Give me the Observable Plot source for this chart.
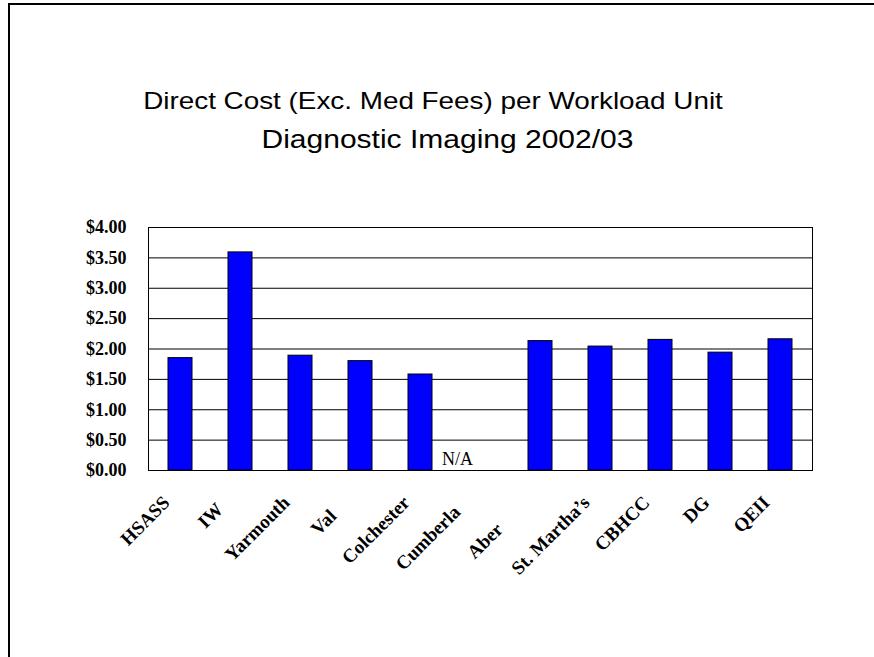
<!DOCTYPE html>
<html>
<head>
<meta charset="utf-8">
<script src="https://cdn.jsdelivr.net/npm/d3@7"></script>
<script src="https://cdn.jsdelivr.net/npm/@observablehq/plot@0.6"></script>
<style>
  html, body { margin: 0; padding: 0; background: #fff; }
  #page { position: relative; width: 874px; height: 657px; overflow: hidden; background: #fff; }
  #frame { position: absolute; left: 8px; top: 3px; width: 900px; height: 700px; border-left: 2px solid #000; border-top: 2px solid #000; box-sizing: border-box; }
  .title { position: absolute; font-family: "Liberation Sans", Arial, sans-serif; color: #000; white-space: nowrap; transform-origin: center; }
  #chart { position: absolute; left: 0; top: 200px; }
</style>
</head>
<body>
<div id="page">
  <div id="frame"></div>
  <div class="title" id="t1" style="left:0; width:866px; text-align:center; top:87px; font-size:24px; transform:scaleX(1.16);">Direct Cost (Exc. Med Fees) per Workload Unit</div>
  <div class="title" id="t2" style="left:0; width:895px; text-align:center; top:125px; font-size:25px; transform:scaleX(1.2);">Diagnostic Imaging 2002/03</div>
  <div id="chart"></div>
</div>
<script>
const sites = ["HSASS", "IW", "Yarmouth", "Val", "Colchester", "Cumberla", "Aber", "St. Martha\u2019s", "CBHCC", "DG", "QEII"];
const costs = [1.85, 3.59, 1.89, 1.80, 1.58, null, 2.13, 2.04, 2.15, 1.94, 2.16];
const yTicks = [0, 0.5, 1, 1.5, 2, 2.5, 3, 3.5, 4];
const naSite = "Cumberla";
const naLabel = "N/A";

const data = sites.map((s, i) => ({site: s, cost: costs[i]}));
const bars = data.filter(d => d.cost != null);

// the truncated labels sit as if their clipped tails were still there
const tailPad = {"IW": "\u2002", "Val": "\u2002\u2002", "Cumberla": "\u2002\u2009", "Aber": "\u2002\u2002\u2002\u2002"};

const chart = Plot.plot({
  width: 874,
  height: 457,
  marginLeft: 148,
  marginRight: 62,
  marginTop: 27,
  marginBottom: 187,
  style: {background: "transparent", overflow: "visible"},
  x: {domain: sites, paddingInner: 0.6, paddingOuter: 0.3, label: null},
  y: {domain: [0, 4], label: null},
  marks: [
    Plot.ruleY(yTicks, {stroke: "#000", strokeWidth: 1}),
    Plot.barY(bars, {x: "site", y: "cost", fill: "#0000ff", stroke: "#000", strokeWidth: 1}),
    Plot.text([naSite], {x: d => d, y: 0, text: () => naLabel, dx: -23, dy: -11, fontFamily: "Liberation Serif", fontSize: 18, fill: "#000"}),
    Plot.frame({stroke: "#000", strokeWidth: 1}),
    Plot.axisY({ticks: yTicks, tickFormat: d => "$" + d.toFixed(2), tickSize: 0, tickPadding: 22, fontFamily: "Liberation Serif", fontWeight: "bold", fontSize: 18, fill: "#000", label: null}),
    Plot.axisX({tickSize: 0, tickRotate: -45, tickPadding: 29, tickFormat: d => d + (tailPad[d] || ""), fontFamily: "Liberation Serif", fontWeight: "bold", fontSize: 19, fill: "#000", label: null, dx: -14})
  ]
});
document.getElementById("chart").appendChild(chart);
</script>
</body>
</html>
